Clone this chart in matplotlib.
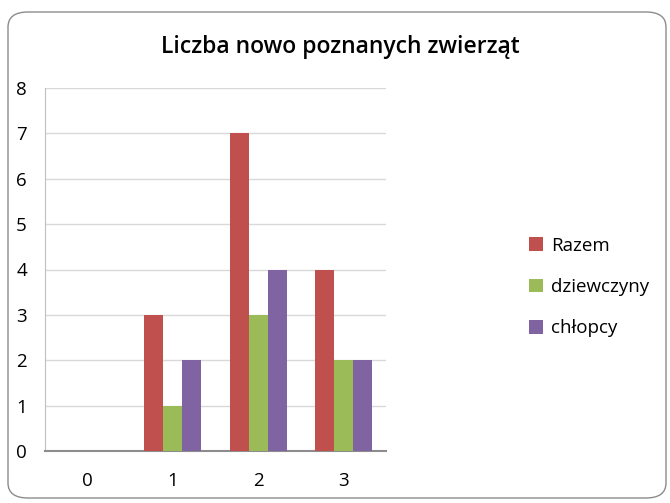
import matplotlib
matplotlib.use("Agg")
import matplotlib.pyplot as plt
import numpy as np
from matplotlib.patches import FancyBboxPatch

categories = ["0", "1", "2", "3"]
razem = [0, 3, 7, 4]
dziewczyny = [0, 1, 3, 2]
chlopcy = [0, 2, 4, 2]
series_names = ["Razem", "dziewczyny", "chłopcy"]
colors = ["#C0504D", "#9BBB59", "#8064A2"]

plt.rcParams['font.family'] = ['Open Sans', 'DejaVu Sans']

fig = plt.figure(figsize=(6.70, 5.03), dpi=100)
fig.patch.set_facecolor("white")
border = FancyBboxPatch((8/670, 5/503), 658/670, 486/503,
                        boxstyle="round,pad=0,rounding_size=0.03",
                        transform=fig.transFigure, facecolor="white",
                        edgecolor="#8c8c8c", linewidth=1.0, zorder=-10)
fig.patches.append(border)

ax = fig.add_axes([45/670, 1-451/503, 341/670, 363/503])
ax.set_zorder(2)
ax.set_facecolor("none")
x = np.arange(len(categories))
w = 0.222
for i, (vals, name, c) in enumerate(zip([razem, dziewczyny, chlopcy], series_names, colors)):
    ax.bar(x + (i-1)*w, vals, width=w, color=c, label=name, zorder=3)

ax.set_xlim(-0.5, 3.5)
ax.set_ylim(0, 8)
ax.set_yticks(range(0, 9))
ax.set_xticks(x)
ax.set_xticklabels(categories)
ax.yaxis.grid(True, color="#d9d9d9", linewidth=1.0, zorder=0)
ax.set_axisbelow(True)
for s in ["top", "right"]:
    ax.spines[s].set_visible(False)
ax.spines["left"].set_color("#bfbfbf")
ax.spines["bottom"].set_color("#8c8c8c")
ax.spines["bottom"].set_linewidth(1.5)
ax.tick_params(axis="both", length=0, labelsize=13.5, colors="black")
ax.tick_params(axis="y", pad=13)
ax.tick_params(axis="x", pad=15)

fig.text(0.508, 1-47/503, "Liczba nowo poznanych zwierząt", ha="center", va="center",
         fontsize=16.5, fontweight="semibold")

handles, labels = ax.get_legend_handles_labels()
leg = fig.legend(handles, labels, loc="center left", bbox_to_anchor=(512/670, 1-287/503),
                 frameon=False, fontsize=13.5, handlelength=0.75, handleheight=0.75,
                 labelspacing=1.25, handletextpad=0.45)
leg.set_zorder(5)

fig.savefig("out.png", dpi=100, facecolor="white")
